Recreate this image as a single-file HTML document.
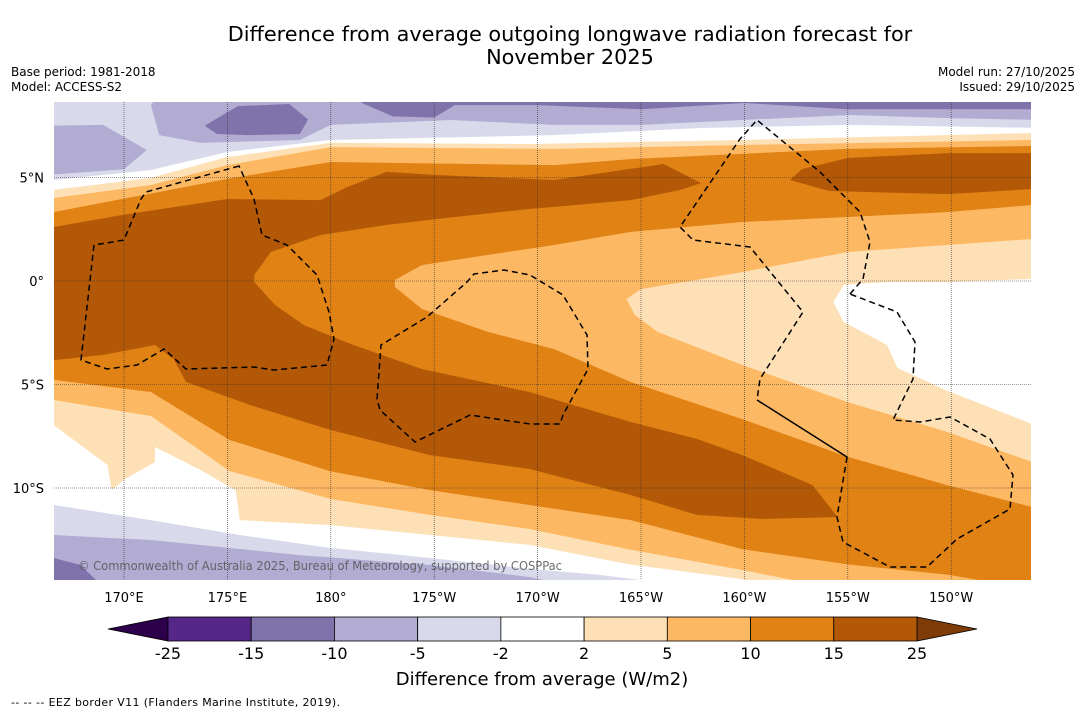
<!DOCTYPE html>
<html><head><meta charset="utf-8">
<style>
html,body{margin:0;padding:0;background:#fff;}
body{width:1085px;height:713px;overflow:hidden;font-family:"DejaVu Sans","Liberation Sans",sans-serif;}
svg text{font-family:"DejaVu Sans","Liberation Sans",sans-serif;}
</style></head>
<body>
<svg id="chart" width="1085" height="713" viewBox="0 0 1085 713" xmlns="http://www.w3.org/2000/svg">
<rect width="1085" height="713" fill="#fff"/>
<text x="570" y="41" font-size="20.8" text-anchor="middle" fill="#000">Difference from average outgoing longwave radiation forecast for</text>
<text x="570" y="64" font-size="20.8" text-anchor="middle" fill="#000">November 2025</text>
<text x="11" y="76" font-size="12">Base period: 1981-2018</text>
<text x="11" y="91" font-size="12">Model: ACCESS-S2</text>
<text x="1075" y="76" font-size="12" text-anchor="end">Model run: 27/10/2025</text>
<text x="1075" y="91" font-size="12" text-anchor="end">Issued: 29/10/2025</text>
<defs><clipPath id="mapclip"><rect x="54" y="102" width="977" height="478"/></clipPath></defs>
<g id="map" clip-path="url(#mapclip)">
<rect x="54" y="102" width="977" height="478" fill="#fff"/>
<g id="layers"></g>
<g id="grid"></g>
<g fill="none" stroke="#000" stroke-width="1.5">
<path stroke-dasharray="6,4" d="M239,166 L146,192 L141,199 L124,240 L94,245 L81,360 L107,369 L137,365 L164,349 L186,369 L254,367 L274,370 L327,365 L334,339 L329,312 L317,275 L287,245 L262,235 L254,199 Z"/>
<path stroke-dasharray="6,4" d="M377,399 L381,345 L427,317 L467,282 L474,274 L504,270 L530,275 L563,295 L587,335 L588,369 L563,415 L560,424 L530,424 L470,415 L415,442 L380,410 Z"/>
<path stroke-dasharray="6,4" d="M850,294 L863,279 L870,242 L860,212 L820,172 L757,120 L740,139 L680,227 L693,240 L750,247 L803,312 L760,379 L757,400"/>
<path d="M757,400 L847,457"/>
<path stroke-dasharray="6,4" d="M847,457 L837,517 L843,542 L890,567 L927,567 L957,539 L1010,509 L1013,475 L990,439 L950,417 L920,422 L893,420 L913,379 L915,342 L897,312 L850,294"/>
</g>
<text x="78" y="570" font-size="12" fill="#555" fill-opacity="0.85" textLength="484" lengthAdjust="spacingAndGlyphs">© Commonwealth of Australia 2025, Bureau of Meteorology, supported by COSPPac</text>
</g>
<g id="axes"></g>
<g id="colorbar"></g>
<text x="542" y="685" font-size="18" text-anchor="middle">Difference from average (W/m2)</text>
<text x="11" y="706" font-size="11" textLength="329" lengthAdjust="spacing">--  --  -- EEZ border V11 (Flanders Marine Institute, 2019).</text>
</svg>
<script>
// ---- data ----
const levels = [-25,-15,-10,-5,-2,2,5,10,15,25];
const levelColors = ['#542788','#8073ac','#b2abd2','#d8daeb','#ffffff','#fee0b6','#fdb863','#e08214','#b35806'];
const extendLow = '#2d004b';
const extendHigh = '#7f3b08';
const lonTicks = [170,175,180,185,190,195,200,205,210];
const lonTickLabels = ['170°E','175°E','180°','175°W','170°W','165°W','160°W','155°W','150°W'];
const latTicks = [5,0,-5,-10];
const latTickLabels = ['5°N','0°','5°S','10°S'];
// contour bands: polygons of [lon, lat] painted in order
const bandTopLightPurple = [[166,9],[214.5,9],[214.5,7.39],[205.1,7.54],[197.9,7.39],[190.8,7.05],[180,6.81],[175,6.23],[171.3,5.36],[166.6,4.88],[166,4.88]];
const bandTopMedPurpleA = [[171.7,9],[214.5,9],[214.5,7.78],[209.9,7.87],[205.1,8.02],[199.9,7.78],[195,7.54],[190.8,7.54],[185.8,7.78],[180,7.54],[178.5,6.81],[173.7,6.67],[171.7,7.05],[171.3,8.5]];
const bandTopMedPurpleB = [[166,7.5],[169,7.54],[171.1,6.33],[170,5.4],[166,5.1]];
const bandTopDarkPurpleA = [[173.9,7.5],[175.5,8.45],[178,8.55],[178.9,7.8],[178.5,7.1],[176,7.05],[174.5,7.1]];
const bandTopDarkPurpleB = [[181.5,9],[214.5,9],[214.5,8.3],[205,8.3],[200,8.6],[195,8.3],[190,8.5],[186,8.5],[185,7.9],[183,7.95],[181.5,8.6]];
const bandBotLightPurple = [[166,-10.82],[166.6,-10.82],[171.3,-11.55],[175.6,-12.27],[180,-12.9],[184.8,-13.38],[189.6,-13.91],[193,-14.2],[195.4,-14.5],[196,-15],[166,-15]];
const bandBotMedPurple = [[166,-12.27],[166.6,-12.27],[171.3,-12.51],[178.5,-13.24],[184.8,-13.72],[189.6,-14.3],[191,-14.6],[191,-15],[166,-15]];
const bandBotDarkPurple = [[166,-13.38],[166.6,-13.38],[167.9,-13.72],[168.8,-14.6],[168.8,-15],[166,-15]];
const band2 = [[166,4.4],[166.6,4.4],[171.3,4.98],[175,5.99],[180,6.67],[189.6,6.62],[199.9,6.81],[213.9,7.15],[214.5,7.15],[214.5,-15],[200.8,-15],[199.9,-14.4],[194.5,-13.7],[189.6,-12.75],[184.8,-12.27],[180,-11.79],[175.6,-11.55],[175.4,-10.1],[173.7,-9.13],[171.5,-8.02],[171.5,-8.75],[170,-9.6],[169.4,-10.1],[169.2,-8.89],[166.6,-6.96],[166,-6.9]];
const band5 = [[166,4.01],[166.6,4.01],[171.3,4.64],[175,5.6],[180,6.47],[190.8,6.38],[199.9,6.57],[213.9,6.81],[214.5,6.81],[214.5,-15],[205.1,-15],[199.9,-13.96],[194.5,-12.98],[189.6,-11.98],[184.8,-11.3],[180,-10.53],[175.1,-9.18],[171.3,-6.52],[166.6,-5.75],[166,-5.75]];
const band10 = [[166,3.33],[166.6,3.33],[175,4.93],[180,5.75],[190.8,5.6],[194.5,5.89],[205,6.38],[213.9,6.52],[214.5,6.52],[214.5,-15],[209.9,-14.2],[205.1,-13.7],[199.9,-12.95],[194.5,-11.55],[189.6,-10.82],[184.8,-10.1],[180,-9.2],[175.1,-7.68],[171.3,-5.36],[166.6,-4.78],[166,-4.78]];
const hole10 = [[183.1,0.05],[184.4,0.77],[187.6,1.26],[190.8,1.74],[194.5,2.37],[199.9,2.85],[205,3.09],[209.8,3.33],[213.9,3.67],[214.5,3.67],[214.5,-10.9],[213.9,-10.92],[209.8,-9.86],[205,-8.5],[199.9,-6.67],[194.5,-4.88],[190.8,-3.29],[187.6,-2.46],[184.4,-1.35],[183.1,-0.29]];
const hole5 = [[194.3,-0.87],[195,-0.39],[199.9,0.43],[205,1.4],[209.8,1.74],[213.9,2.03],[214.5,2.03],[214.5,-8.9],[213.9,-8.74],[209.8,-7.29],[205,-5.85],[199.9,-4.06],[195.8,-2.46],[194.7,-1.64]];
const hole2 = [[204.3,-1.01],[204.8,-0.2],[205.4,-0.14],[207,-0.05],[209.8,-0.05],[213.9,0.1],[214.5,0.1],[214.5,-6.8],[213.9,-6.9],[209.8,-5.3],[207.4,-4.2],[206.9,-3.09],[204.8,-1.98]];
const band15Main = [[166,2.61],[166.6,2.61],[169.9,3.19],[175,3.96],[179.5,3.91],[180.8,4.54],[182.7,5.27],[185.1,5.12],[190.8,4.88],[196.1,5.65],[197.9,4.73],[196.9,4.4],[194.5,3.91],[189.6,3.48],[186,3.09],[182.7,2.71],[179.5,2.22],[177.1,1.4],[176.3,0.29],[176.3,-0.05],[177.3,-1.16],[178.7,-2.13],[181.1,-3.09],[184.4,-4.25],[189.6,-5.36],[194.5,-6.81],[197.7,-7.63],[199.9,-8.41],[203.3,-9.86],[204.5,-11.4],[200.9,-11.5],[197.7,-11.3],[194.5,-10.34],[189.6,-9.08],[184.8,-8.41],[180,-7.2],[176.1,-5.99],[173,-4.88],[172.4,-3.77],[171.5,-3.09],[169,-3.57],[166.6,-3.82],[166,-3.82]];
const band15Right = [[202.2,4.88],[202.8,5.41],[205,5.94],[209.8,6.18],[214.5,6.18],[214.5,4.35],[213.9,4.44],[209.8,4.2],[204.1,4.35]];

// ---- axes ----
const X = lon => 124 + (lon - 170) * 20.68;
const Y = lat => 281 - lat * 20.7;
const NS = 'http://www.w3.org/2000/svg';
function mk(tag, attrs, parent){ const e=document.createElementNS(NS,tag); for(const k in attrs) e.setAttribute(k,attrs[k]); parent.appendChild(e); return e; }

const layers = document.getElementById('layers');
const paint = [
 ['top-light-purple-band',bandTopLightPurple,3],
 ['top-medium-purple-band',bandTopMedPurpleA,2],
 ['top-medium-purple-patch',bandTopMedPurpleB,2],
 ['top-dark-purple-patch',bandTopDarkPurpleA,1],
 ['top-dark-purple-strip',bandTopDarkPurpleB,1],
 ['bottom-light-purple-band',bandBotLightPurple,3],
 ['bottom-medium-purple-band',bandBotMedPurple,2],
 ['bottom-dark-purple-band',bandBotDarkPurple,1],
 ['band-2-to-5',band2,5],
 ['band-5-to-10',band5,6],
 ['band-10-to-15',band10,7],
 ['hole-below-10',hole10,6],
 ['hole-below-5',hole5,5],
 ['hole-below-2',hole2,4],
 ['band-above-15-main',band15Main,8],
 ['band-above-15-east',band15Right,8]
];
paint.forEach(([name,poly,ci])=>{
  const p = mk('polygon',{points:poly.map(([lo,la])=>X(lo).toFixed(1)+','+Y(la).toFixed(1)).join(' '),fill:levelColors[ci]},layers);
  
  
});

const grid = document.getElementById('grid');
const axes = document.getElementById('axes');
lonTicks.forEach((lo,i)=>{
  const l = mk('line',{x1:X(lo),x2:X(lo),y1:102,y2:580,stroke:'#333','stroke-width':0.6,'stroke-dasharray':'1,1'},grid);
  
  
  const t = mk('text',{x:X(lo),y:602,'font-size':13,'text-anchor':'middle'},axes);
  t.textContent = lonTickLabels[i];
  
  
});
latTicks.forEach((la,i)=>{
  const l = mk('line',{x1:54,x2:1031,y1:Y(la),y2:Y(la),stroke:'#333','stroke-width':0.6,'stroke-dasharray':'1,1'},grid);
  
  
  const t = mk('text',{x:44,y:Y(la)+5,'font-size':13,'text-anchor':'end'},axes);
  t.textContent = latTickLabels[i];
  
  
});

// ---- colorbar ----
const cb = document.getElementById('colorbar');
const cbX0 = 168, cbX1 = 917, cbY = 617, cbH = 24;
const segW = (cbX1 - cbX0) / levelColors.length;
const lt = mk('polygon',{points:`108,${cbY+cbH/2} ${cbX0},${cbY} ${cbX0},${cbY+cbH}`,fill:extendLow,stroke:'#000','stroke-width':0.8},cb);


const rt = mk('polygon',{points:`977,${cbY+cbH/2} ${cbX1},${cbY} ${cbX1},${cbY+cbH}`,fill:extendHigh,stroke:'#000','stroke-width':0.8},cb);


levelColors.forEach((c,i)=>{
  const r = mk('rect',{x:cbX0+i*segW,y:cbY,width:segW,height:cbH,fill:c,stroke:'#000','stroke-width':0.8},cb);
  
  
});
levels.forEach((v,i)=>{
  const t = mk('text',{x:cbX0+i*segW,y:659,'font-size':16,'text-anchor':'middle'},cb);
  t.textContent = String(v);
  
  
});
</script>
</body></html>
